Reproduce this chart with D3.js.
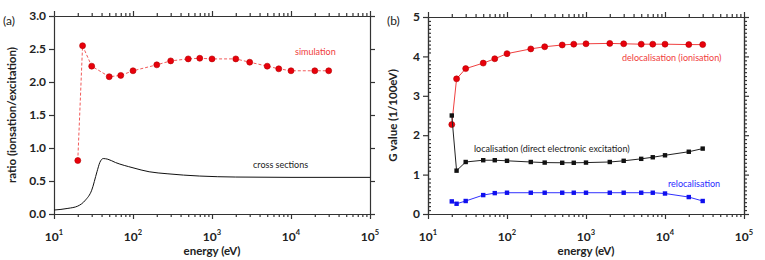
<!DOCTYPE html>
<html>
<head>
<meta charset="utf-8">
<script src="https://cdn.jsdelivr.net/npm/d3@7"></script>
<style>
  body { margin: 0; background: #fff; }
  svg { font-family: Lato, "Open Sans", sans-serif; }
  .axis path, .axis line { stroke: #333; stroke-width: 1.2; }
  .tick-label { font-weight: bold; font-size: 12px; fill: #222; }
  .axis-title { font-weight: bold; font-size: 11.5px; fill: #222; }
  .note { font-size: 9px; }
</style>
</head>
<body>
<div id="chart"></div>
<script>
// ---- data ----
const energies = [20, 23, 30, 50, 70, 100, 200, 300, 500, 700, 1000, 2000, 3000, 5000, 7000, 10000, 20000, 30000];
const ratioSim = [0.81, 2.55, 2.24, 2.08, 2.10, 2.17, 2.26, 2.32, 2.35, 2.36, 2.35, 2.35, 2.30, 2.24, 2.20, 2.17, 2.17, 2.17];

const csEnergy = [10, 15, 20, 25, 30, 35, 38, 42, 48, 60, 100, 160, 270, 700, 2000, 10000, 100000];
const csRatio = [0.06, 0.085, 0.12, 0.21, 0.36, 0.64, 0.78, 0.84, 0.83, 0.78, 0.70, 0.64, 0.61, 0.575, 0.56, 0.555, 0.555];

const gDeloc = [2.27, 3.43, 3.69, 3.83, 3.94, 4.07, 4.19, 4.245, 4.29, 4.31, 4.32, 4.33, 4.32, 4.31, 4.31, 4.31, 4.30, 4.30];
const gLoc = [2.50, 1.10, 1.32, 1.365, 1.365, 1.35, 1.32, 1.305, 1.30, 1.30, 1.305, 1.32, 1.35, 1.40, 1.44, 1.49, 1.58, 1.66];
const gReloc = [0.32, 0.26, 0.33, 0.48, 0.53, 0.54, 0.54, 0.54, 0.54, 0.54, 0.54, 0.54, 0.54, 0.54, 0.54, 0.52, 0.43, 0.33];

const majorX = [10, 100, 1000, 10000, 100000];
const ratioTicks = [0, 0.5, 1.0, 1.5, 2.0, 2.5, 3.0];
const gTicks = [0, 1, 2, 3, 4, 5];

const width = 765, height = 260;

const svg = d3.select("#chart").append("svg")
  .attr("width", width)
  .attr("height", height);

function frame(x, y, yTicks, yFmt, yMinor) {
  const [x0, x1] = x.range();
  const [y0, y1] = y.range();
  const minorX = x.ticks().filter((v) => !majorX.includes(v));
  const g = svg.append("g");

  const add = (axis, tx, ty) =>
    g.append("g").attr("class", "axis")
      .attr("transform", `translate(${tx},${ty})`)
      .call(axis)
      .call((s) => s.selectAll("text").remove());

  // x axes (bottom + top)
  add(d3.axisBottom(x).tickValues(minorX).tickSize(3).tickSizeOuter(0), 0, y0);
  add(d3.axisBottom(x).tickValues(majorX).tickSize(5).tickSizeOuter(0), 0, y0);
  add(d3.axisTop(x).tickValues(minorX).tickSize(3).tickSizeOuter(0), 0, y1);
  add(d3.axisTop(x).tickValues(majorX).tickSize(5).tickSizeOuter(0), 0, y1);

  // y axes (left + right)
  add(d3.axisLeft(y).tickValues(yTicks).tickSize(5).tickSizeOuter(0), x0, 0);
  add(d3.axisRight(y).tickValues(yTicks).tickSize(5).tickSizeOuter(0), x1, 0);
  if (yMinor) {
    add(d3.axisLeft(y).tickValues(yMinor).tickSize(-3).tickSizeOuter(0), x0, 0);
    add(d3.axisRight(y).tickValues(yMinor).tickSize(3).tickSizeOuter(0), x1, 0);
  }

  // x tick labels 10^n
  majorX.forEach((v) => {
    const t = g.append("text")
      .attr("class", "tick-label")
      .attr("x", x(v))
      .attr("y", y0 + 27)
      .attr("text-anchor", "middle");
    t.append("tspan").text("10");
    t.append("tspan")
      .attr("dy", -6)
      .attr("font-size", 7.5)
      .text(Math.round(Math.log10(v)));
  });

  // y tick labels
  yTicks.forEach((v) => {
    g.append("text")
      .attr("class", "tick-label")
      .attr("x", x0 - 8)
      .attr("y", y(v))
      .attr("dy", "0.35em")
      .attr("text-anchor", "end")
      .text(yFmt(v));
  });
  return g;
}

// ---- panel (a) ----
const xa = d3.scaleLog().domain([10, 100000]).range([54, 370]);
const ya = d3.scaleLinear().domain([0, 3]).range([214, 16]);
frame(xa, ya, ratioTicks, d3.format(".1f"));

svg.append("path")
  .attr("fill", "none")
  .attr("stroke", "#111")
  .attr("stroke-width", 1)
  .attr("d", d3.line()
    .x((d, i) => xa(csEnergy[i]))
    .y((d) => ya(d))
    .curve(d3.curveMonotoneX)(csRatio));

svg.append("path")
  .attr("fill", "none")
  .attr("stroke", "#f25a5a")
  .attr("stroke-width", 1)
  .attr("stroke-dasharray", "3,2")
  .attr("d", d3.line()
    .x((d, i) => xa(energies[i]))
    .y((d) => ya(d))(ratioSim));

svg.append("g").selectAll("circle")
  .data(ratioSim)
  .join("circle")
  .attr("cx", (d, i) => xa(energies[i]))
  .attr("cy", (d) => ya(d))
  .attr("r", 3)
  .attr("fill", "#e8000b")
  .attr("stroke", "#b30000")
  .attr("stroke-width", 0.6);

svg.append("text").attr("class", "note").attr("x", 295).attr("y", 55)
  .attr("fill", "#f03c3c").text("simulation");
svg.append("text").attr("class", "note").attr("x", 253).attr("y", 168)
  .attr("fill", "#222").text("cross sections");

svg.append("text").attr("x", 3).attr("y", 25).attr("font-size", 12)
  .attr("fill", "#222").text("(a)");
svg.append("text").attr("class", "axis-title")
  .attr("transform", `translate(16,${(214 + 16) / 2}) rotate(-90)`)
  .attr("text-anchor", "middle").text("ratio (ionsation/excitation)");
svg.append("text").attr("class", "axis-title")
  .attr("x", (54 + 370) / 2).attr("y", 255)
  .attr("text-anchor", "middle").text("energy (eV)");

// ---- panel (b) ----
const xb = d3.scaleLog().domain([10, 100000]).range([428, 744]);
const yb = d3.scaleLinear().domain([0, 5]).range([214, 17]);
const gMinor = d3.range(0, 50).map((i) => i / 10).filter((v) => v % 1 !== 0);
frame(xb, yb, gTicks, d3.format("d"), gMinor);

const series = [
  { values: gDeloc, color: "#e8000b", line: "#f04040", shape: "circle" },
  { values: gLoc, color: "#111", line: "#222", shape: "square" },
  { values: gReloc, color: "#1010ee", line: "#3030ff", shape: "square" },
];

series.forEach((s) => {
  svg.append("path")
    .attr("fill", "none")
    .attr("stroke", s.line)
    .attr("stroke-width", 1)
    .attr("d", d3.line()
      .x((d, i) => xb(energies[i]))
      .y((d) => yb(d))(s.values));

  const g = svg.append("g");
  if (s.shape === "circle") {
    g.selectAll("circle").data(s.values).join("circle")
      .attr("cx", (d, i) => xb(energies[i]))
      .attr("cy", (d) => yb(d))
      .attr("r", 3)
      .attr("fill", s.color)
      .attr("stroke", "#b30000")
      .attr("stroke-width", 0.6);
  } else {
    g.selectAll("rect").data(s.values).join("rect")
      .attr("x", (d, i) => xb(energies[i]) - 2.2)
      .attr("y", (d) => yb(d) - 2.2)
      .attr("width", 4.4)
      .attr("height", 4.4)
      .attr("fill", s.color);
  }
});

svg.append("text").attr("class", "note").attr("x", 622).attr("y", 61)
  .attr("fill", "#f03c3c").text("delocalisation (ionisation)");
svg.append("text").attr("class", "note").attr("x", 474).attr("y", 152)
  .attr("fill", "#222").text("localisation (direct electronic excitation)");
svg.append("text").attr("class", "note").attr("x", 668).attr("y", 187)
  .attr("fill", "#2a2aff").text("relocalisation");

svg.append("text").attr("x", 387).attr("y", 25).attr("font-size", 12)
  .attr("fill", "#222").text("(b)");
svg.append("text").attr("class", "axis-title")
  .attr("transform", `translate(397,${(214 + 17) / 2}) rotate(-90)`)
  .attr("text-anchor", "middle").text("G value (1/100eV)");
svg.append("text").attr("class", "axis-title")
  .attr("x", (428 + 744) / 2).attr("y", 255)
  .attr("text-anchor", "middle").text("energy (eV)");
</script>
</body>
</html>
